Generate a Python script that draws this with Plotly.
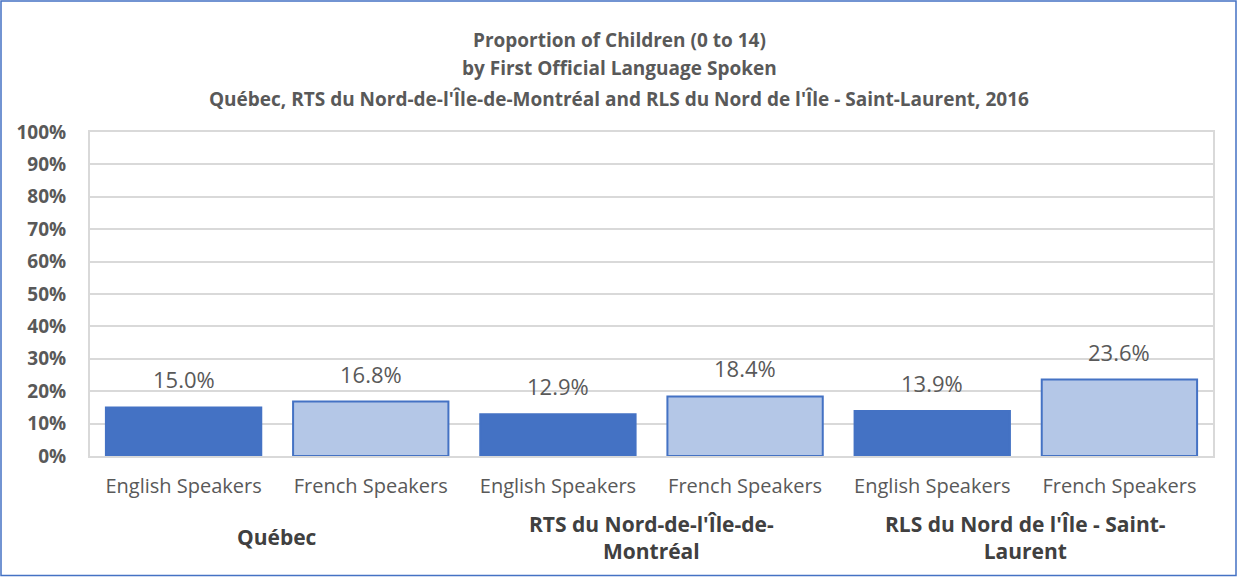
import plotly.graph_objects as go

groups = ["Québec", "RTS du Nord-de-l'Île-de-<br>Montréal", "RLS du Nord de l'Île - Saint-<br>Laurent"]
speakers = ["English Speakers", "French Speakers"]
values = [15.0, 16.8, 12.9, 18.4, 13.9, 23.6]
ytick_vals = [0, 10, 20, 30, 40, 50, 60, 70, 80, 90, 100]
ytick_text = [f"{v}%" for v in ytick_vals]
title_lines = [
    "Proportion of Children (0 to 14)",
    "by First Official Language Spoken",
    "Québec, RTS du Nord-de-l'Île-de-Montréal and RLS du Nord de l'Île - Saint-Laurent, 2016",
]

W, H = 1238, 577
L, R, T, B = 90, 25, 132, 121
PW, PH = W - L - R, H - T - B

labels = [s for g in groups for s in speakers]
xs = list(range(len(values)))
fills = ["#4472C4" if i % 2 == 0 else "#B4C7E7" for i in xs]

FONT = "Open Sans"
GRAY = "#595959"

fig = go.Figure()
fig.add_trace(go.Bar(
    x=xs, y=values,
    marker=dict(color=fills, line=dict(color="#4472C4", width=2)),
    width=0.83, hoverinfo="skip",
))

annotations = []
for x, v in zip(xs, values):
    annotations.append(dict(x=x, y=v, xref="x", yref="y", text=f"{v:.1f}%",
                            showarrow=False, yanchor="bottom", yshift=11,
                            font=dict(family=FONT, size=22, color=GRAY)))
for gi, g in enumerate(groups):
    annotations.append(dict(x=gi * 2 + 0.5, xref="x", y=(456 - 537) / PH, yref="paper",
                            text=f"<b>{g}</b>", showarrow=False, yanchor="middle",
                            font=dict(family=FONT, size=21, color="#404040")))
title_y = [40, 68, 99]
for ty, tl in zip(title_y, title_lines):
    annotations.append(dict(x=(619 - L) / PW, xref="paper", y=(456 - ty) / PH, yref="paper",
                            text=f"<b>{tl}</b>", showarrow=False, yanchor="middle",
                            font=dict(family=FONT, size=19, color=GRAY)))

fig.update_layout(
    width=W, height=H,
    margin=dict(l=L, r=R, t=T, b=B),
    paper_bgcolor="white", plot_bgcolor="white",
    showlegend=False,
    annotations=annotations,
    shapes=[dict(type="rect", xref="paper", yref="paper",
                 x0=(1 - L) / PW, x1=(1236 - L) / PW,
                 y0=(456 - 575.5) / PH, y1=(456 - 1) / PH,
                 line=dict(color="#4472C4", width=1.5), layer="below")],
    xaxis=dict(range=[-0.5, 5.5], tickvals=xs, ticktext=labels,
               ticks="outside", ticklen=11, tickcolor="rgba(0,0,0,0)",
               tickfont=dict(family=FONT, size=20, color=GRAY),
               showgrid=False, showline=True, linecolor="#D9D9D9", linewidth=2,
               mirror=True, zeroline=False, fixedrange=True),
    yaxis=dict(range=[0, 100], tickvals=ytick_vals, ticktext=[f"<b>{t}</b>" for t in ytick_text],
               ticks="outside", ticklen=18, tickcolor="rgba(0,0,0,0)",
               tickfont=dict(family=FONT, size=19, color=GRAY),
               showgrid=True, gridcolor="#D9D9D9", gridwidth=2,
               showline=True, linecolor="#D9D9D9", linewidth=2, mirror=True,
               zeroline=False, fixedrange=True),
)

fig.write_html("out.html", config={"displayModeBar": False},
               post_script="document.body.style.margin='0';document.body.style.overflow='hidden';")
